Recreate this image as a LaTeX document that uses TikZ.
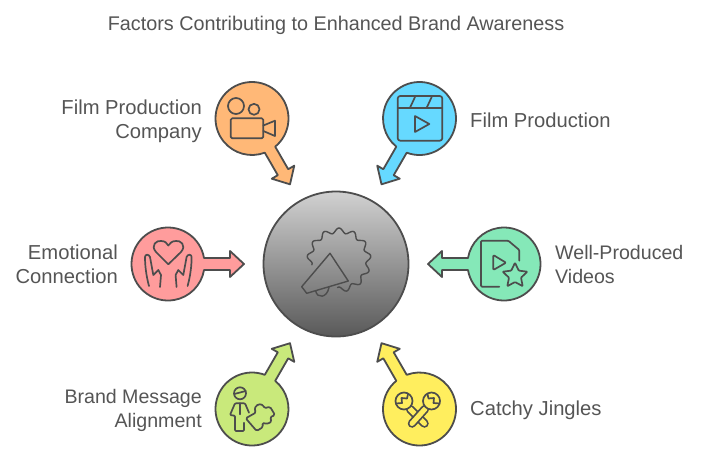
\documentclass[tikz,border=0pt]{standalone}
\usepackage{fontspec}
\setmainfont{Liberation Sans}
\definecolor{ink}{HTML}{4D4D4D}
\definecolor{txt}{HTML}{555555}
\definecolor{cOrange}{HTML}{FFB877}
\definecolor{cBlue}{HTML}{66D9FF}
\definecolor{cRed}{HTML}{FF9C9C}
\definecolor{cGreen}{HTML}{85E8B8}
\definecolor{cLime}{HTML}{C9E97B}
\definecolor{cYellow}{HTML}{FFEE5E}
\tikzset{
  outline/.style={draw=ink,line width=1.8pt,line join=round},
  glyph/.style={draw=ink,line width=1.7pt,line join=round,line cap=round},
  heading/.style={font=\fontsize{19.8}{24}\selectfont,text=txt,inner sep=0pt},
  caption/.style={font=\fontsize{20.2}{24}\selectfont,text=txt,inner sep=0pt},
  tightcaption/.style={font=\fontsize{19.6}{24}\selectfont,text=txt,inner sep=0pt},
  hub/.style={circle,minimum size=145pt,inner sep=0pt,draw=ink,line width=1.8pt,top color=black!18,bottom color=black!65},
}
% Circle with an arrow growing out of it: colour, centre x, centre y, clockwise heading
\newcommand{\balloon}[4]{%
  \begin{scope}[shift={(#2,#3)},rotate=-#4,y=1pt]
    \filldraw[outline,fill=#1] (9.5:36.5) arc[start angle=9.5,end angle=350.5,radius=36.5pt]
      -- (62,-6) -- (62,-13) -- (76,0) -- (62,13) -- (62,6) -- cycle;
  \end{scope}}
\begin{document}
\begin{tikzpicture}[x=1pt,y=-1pt]
\useasboundingbox (0,0) rectangle (708,464);
\fill[white] (0,0) rectangle (708,464);

\node[heading] (title) at (336,25) {Factors Contributing to Enhanced Brand Awareness};

% Central hub and megaphone
\node[hub] (centre) at (336,264) {};
\draw[glyph,line width=1.4pt] (330,253.3) -- (348.3,281) -- (306.7,293.3) -- (301.7,286.7) -- cycle;
\draw[glyph,line width=1.4pt] (315.7,291) .. controls (317,298.5) and (327,298.5) .. (329,287.3);
\draw[glyph,line width=1.4pt,smooth] plot[samples=120,domain=170:453] ({339+(29.5+2.5*cos(13*(\x-270)))*cos(\x)},{260+(29.5+2.5*cos(13*(\x-270)))*sin(\x)});

% Satellite circles with their arrows
\balloon{cOrange}{252}{118.5}{60}
\balloon{cBlue}{419.5}{118.5}{120}
\balloon{cRed}{168}{264}{0}
\balloon{cGreen}{504}{264}{180}
\balloon{cLime}{252}{409}{-60}
\balloon{cYellow}{419.5}{409}{-120}

% Camera
\draw[glyph] (236,106) circle[radius=8pt];
\draw[glyph] (254,109.3) circle[radius=5.5pt];
\draw[glyph,rounded corners=1.5pt] (230.7,118.3) rectangle (263.3,138.3);
\draw[glyph] (263.3,125.5) -- (275,120.7) -- (275,136) -- (263.3,131);

% Clapperboard
\draw[glyph,rounded corners=2.5pt] (397.7,96) rectangle (442.3,140.7);
\draw[glyph] (397.7,107.7) -- (442.3,107.7);
\draw[glyph] (415,97) -- (410,107.7);
\draw[glyph] (431.7,97) -- (426.7,107.7);
\draw[glyph] (415,116) -- (429.3,124) -- (415,132) -- cycle;

% Heart held between two hands
\draw[glyph] (168.3,264.3) -- (156,252) .. controls (150,245) and (157,240) .. (161,241)
  .. controls (165,241) and (167,243) .. (168.3,245.5)
  .. controls (170,243) and (172,241) .. (176,241)
  .. controls (180,240) and (187,245) .. (181,252) -- cycle;
\draw[glyph] (149,286) .. controls (146,275) and (145,265) .. (145,257)
  .. controls (145,254) and (149,254) .. (150,257)
  -- (153.3,275) -- (158.3,270) -- (161,275) -- (160,287);
\draw[glyph] (187.6,286) .. controls (190.6,275) and (191.6,265) .. (191.6,257)
  .. controls (191.6,254) and (187.6,254) .. (186.6,257)
  -- (183.3,275) -- (178.3,270) -- (175.6,275) -- (176.6,287);

% Document with a play mark and a star
\draw[glyph,rounded corners=1pt] (499.3,286.7) -- (481,286.7) -- (481,240.7) -- (508.3,240.7) -- (519.3,250) -- (519.3,260.7);
\draw[glyph,rounded corners=1pt] (493.3,255) -- (506,262.7) -- (493.3,270) -- cycle;
\draw[glyph,rounded corners=0.8pt] (515,262.7) -- (518.7,270.6) -- (527.4,271.7) -- (521,277.6) -- (522.7,286.2)
  -- (515,282) -- (507.3,286.2) -- (509,277.6) -- (502.6,271.7) -- (511.3,270.6) -- cycle;

% Person beside a puzzle piece
\draw[glyph] (240,393.3) circle[radius=6pt];
\draw[glyph] (234.3,394) -- (245.7,391);
\draw[glyph,rounded corners=1pt] (249,412.7) -- (245,403.3) -- (235,403.3) -- (230,415) -- (235,415.7) -- (235,431) -- (244,431) -- (244,422.7);
\draw[glyph] (240,403.3) -- (240,414.3);
\draw[glyph,rounded corners=1.5pt] (245.7,418.3) -- (256,412.5) -- (254.3,408.3) -- (258.3,404) -- (263.3,405) -- (264.3,408.3)
  -- (270,406.7) -- (275,415) -- (270,417.3) -- (271.7,421.7) -- (266.7,424) -- (262.3,422.7) -- (263,427) -- (256.7,431) -- cycle;

% Crossed maracas
\draw[ink,line width=8.5pt,line cap=round] (410,409) -- (424.5,423.5);
\draw[cYellow,line width=5pt,line cap=round] (410,409) -- (424.5,423.5);
\draw[ink,line width=8.5pt,line cap=round] (425,409) -- (412,423.5);
\draw[cYellow,line width=5pt,line cap=round] (425,409) -- (412,423.5);
\filldraw[glyph,fill=cYellow] (404,401) circle[radius=8.5pt];
\filldraw[glyph,fill=cYellow] (431.5,401) circle[radius=8.5pt];
\draw[glyph] (396,403.5) -- (402,403) -- (401.5,398) -- (407,398.5) -- (408,394);
\draw[glyph] (439.5,403.5) -- (433.5,403) -- (434,398) -- (428.5,398.5) -- (427.5,394);

% Labels
\node[caption,anchor=east,align=right] (lblA) at (202,121.5) {Film Production\\Company};
\node[caption,anchor=west,align=left]  (lblB) at (470,120) {Film Production};
\node[caption,anchor=east,align=right] (lblC) at (118,264) {Emotional\\Connection};
\node[tightcaption,anchor=west,align=left]  (lblD) at (555,264) {Well-Produced\\Videos};
\node[tightcaption,anchor=east,align=right] (lblE) at (202,410) {Brand Message\\Alignment};
\node[caption,anchor=west,align=left]  (lblF) at (470,410) {Catchy Jingles};
\end{tikzpicture}
\end{document}
